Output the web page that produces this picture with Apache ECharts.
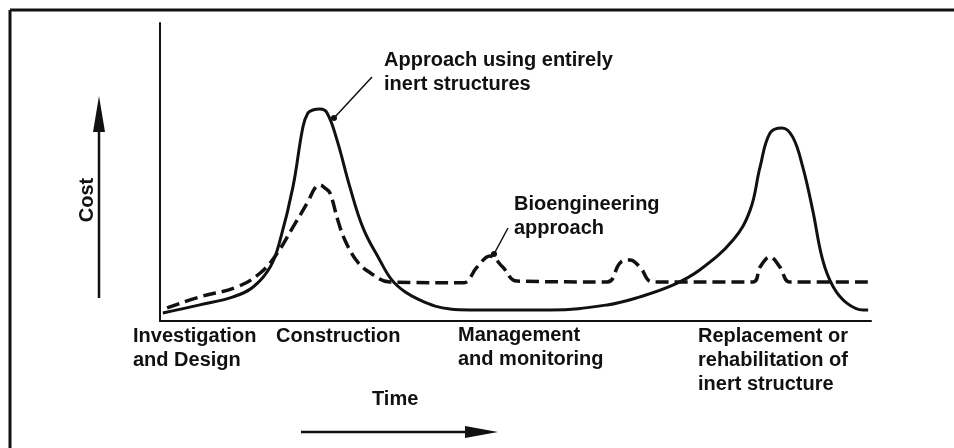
<!DOCTYPE html>
<html>
<head>
<meta charset="utf-8">
<script src="https://cdn.jsdelivr.net/npm/echarts@6/dist/echarts.min.js"></script>
<style>
  html, body { margin: 0; padding: 0; background: #fff; }
  #chart { width: 954px; height: 448px; }
</style>
</head>
<body>
<div id="chart"></div>
<script>
  // time runs 0..100 along the axis, cost 0..100 up the axis
  const inertTime = [0.4, 5.6, 10.3, 13.1, 15.5, 16.9, 18.7, 20.1, 20.8, 21.5, 22.5, 23.5, 24.9, 26.7, 28.6, 30.9, 32.6, 34.5, 36.6, 38.7, 40.8, 43.6, 54.9, 62.9, 67.5, 72.2, 75.9, 80.6, 83.0, 84.4, 85.8, 87.5, 89.0, 90.4, 91.8, 93.2, 94.7, 96.6, 98.9, 99.6]
  const inertCost = [2.7, 5.4, 8.1, 11.4, 18.1, 27.2, 45.0, 65.1, 69.8, 70.8, 71.1, 69.8, 60.7, 45.0, 31.0, 20.5, 13.8, 9.7, 7.0, 5.0, 4.0, 3.7, 3.7, 5.4, 8.1, 12.1, 17.1, 27.2, 37.2, 51.7, 63.1, 64.8, 61.7, 51.7, 37.2, 20.5, 11.4, 6.0, 3.7, 3.7]

  const bioTime = [1.0, 5.6, 10.8, 14.1, 16.5, 18.7, 20.7, 21.9, 22.5, 23.2, 23.9, 25.0, 26.0, 27.8, 29.8, 32.3, 42.6, 44.6, 46.4, 48.2, 50.2, 62.9, 64.7, 66.1, 67.5, 69.3, 83.4, 84.4, 85.8, 87.2, 88.6, 99.6]
  const bioCost = [4.4, 8.1, 11.4, 16.1, 22.8, 31.5, 39.6, 45.0, 45.6, 44.6, 43.0, 33.9, 27.2, 19.8, 15.8, 13.1, 12.8, 18.1, 21.8, 18.1, 13.4, 13.1, 19.5, 20.5, 18.1, 13.1, 13.1, 18.1, 21.5, 18.1, 13.1, 13.1]

  const stageLabels = ['Investigation\nand Design', 'Construction', 'Management\nand monitoring', 'Replacement or\nrehabilitation of\ninert structure']
  const inertLabel = 'Approach using entirely\ninert structures'
  const bioLabel = 'Bioengineering\napproach'

  const ink = '#111'
  const font = 'Liberation Sans, Arial, sans-serif'

  function zip(a, b) {
    return a.map((v, i) => [v, b[i]])
  }

  function label(text, x, y) {
    return {
      type: 'text', left: x, top: y, z: 10,
      style: { text: text, fill: ink, font: 'bold 20px ' + font, lineHeight: 24 }
    }
  }

  const chart = echarts.init(document.getElementById('chart'))
  chart.setOption({
    animation: false,
    backgroundColor: '#fff',
    grid: { left: 160, right: 83, top: 23, bottom: 127 },
    xAxis: {
      type: 'value', min: 0, max: 100,
      axisLine: { show: true, onZero: false, lineStyle: { color: ink, width: 2 } },
      axisTick: { show: false }, axisLabel: { show: false }, splitLine: { show: false }
    },
    yAxis: {
      type: 'value', min: 0, max: 100,
      axisLine: { show: true, lineStyle: { color: ink, width: 2 } },
      axisTick: { show: false }, axisLabel: { show: false }, splitLine: { show: false }
    },
    series: [{
      name: 'inert',
      type: 'line',
      smooth: 0.4,
      symbol: 'none',
      lineStyle: { color: ink, width: 3 },
      data: zip(inertTime, inertCost)
    }, {
      name: 'bio',
      type: 'line',
      smooth: 0.4,
      symbol: 'none',
      lineStyle: { color: ink, width: 3.5, type: [13, 6] },
      data: zip(bioTime, bioCost)
    }],
    graphic: [
      // frame
      { type: 'line', shape: { x1: 10, y1: 10, x2: 954, y2: 10 }, style: { stroke: ink, lineWidth: 3 } },
      { type: 'line', shape: { x1: 10, y1: 10, x2: 10, y2: 448 }, style: { stroke: ink, lineWidth: 3 } },
      // cost arrow
      { type: 'line', shape: { x1: 99, y1: 298, x2: 99, y2: 120 }, style: { stroke: ink, lineWidth: 2.5 } },
      { type: 'polygon', shape: { points: [[99, 96], [105, 132], [93, 132]] }, style: { fill: ink } },
      {
        type: 'text', x: 87, y: 200, rotation: Math.PI / 2, z: 10,
        style: { text: 'Cost', fill: ink, font: 'bold 20px ' + font, align: 'center', verticalAlign: 'middle' }
      },
      // time arrow
      { type: 'line', shape: { x1: 301, y1: 432, x2: 470, y2: 432 }, style: { stroke: ink, lineWidth: 2.5 } },
      { type: 'polygon', shape: { points: [[465, 426], [498, 432], [465, 438]] }, style: { fill: ink } },
      label('Time', 372, 387),
      // stage labels
      label(stageLabels[0], 133, 324),
      label(stageLabels[1], 276, 324),
      label(stageLabels[2], 458, 323),
      label(stageLabels[3], 698, 324),
      // annotations
      label(inertLabel, 384, 48),
      { type: 'line', shape: { x1: 372, y1: 77, x2: 334, y2: 118 }, style: { stroke: ink, lineWidth: 1.5 } },
      { type: 'circle', shape: { cx: 334, cy: 118, r: 3 }, style: { fill: ink } },
      label(bioLabel, 514, 192),
      { type: 'line', shape: { x1: 508, y1: 228, x2: 494, y2: 254 }, style: { stroke: ink, lineWidth: 1.5 } },
      { type: 'circle', shape: { cx: 494, cy: 254, r: 3 }, style: { fill: ink } }
    ]
  })
</script>
</body>
</html>
